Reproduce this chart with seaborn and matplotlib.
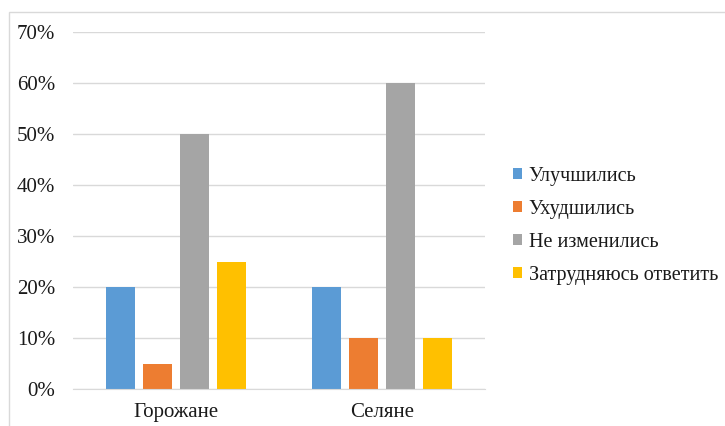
import pandas as pd
import matplotlib.pyplot as plt
import seaborn as sns
from matplotlib.patches import Rectangle
from matplotlib.ticker import PercentFormatter

# Data
groups = ["Горожане", "Селяне"]
answers = ["Улучшились", "Ухудшились", "Не изменились", "Затрудняюсь ответить"]
gorozhane = [20, 5, 50, 25]
selyane = [20, 10, 60, 10]
colors = ["#5B9BD5", "#ED7D31", "#A5A5A5", "#FFC000"]

df = pd.DataFrame({
    "group": [groups[0]] * 4 + [groups[1]] * 4,
    "answer": answers * 2,
    "value": gorozhane + selyane,
})

sns.set_style("white")
plt.rcParams["font.family"] = ["Liberation Serif", "DejaVu Serif"]

fig = plt.figure(figsize=(7.25, 4.26), dpi=100)
ax = fig.add_axes([73 / 725, 37 / 426, 412 / 725, 357 / 426])

# chart border like the Excel frame
fig.patches.append(Rectangle((9 / 725, -0.01), 1.0, 1 - 12 / 426 + 0.01,
                             transform=fig.transFigure, fill=False,
                             edgecolor="#D9D9D9", linewidth=1))

sns.barplot(data=df, x="group", y="value", hue="answer", order=groups,
            hue_order=answers, palette=colors, width=0.72, gap=0.22,
            saturation=1, linewidth=0, ax=ax)

ax.set_xlim(-0.5, 1.5)
ax.set_ylim(0, 70)
ax.set_yticks(range(0, 71, 10))
ax.yaxis.set_major_formatter(PercentFormatter(decimals=0))
ax.grid(axis="y", color="#D9D9D9", linewidth=1)
ax.set_axisbelow(True)
for s in ["top", "right", "left"]:
    ax.spines[s].set_visible(False)
ax.spines["bottom"].set_color("#D9D9D9")
ax.tick_params(axis="both", length=0, labelsize=15, colors="#1a1a1a")
ax.tick_params(axis="y", pad=13)
ax.tick_params(axis="x", pad=10)
ax.set_xlabel("")
ax.set_ylabel("")

ax.legend(loc="center left", bbox_to_anchor=(1.025, 0.457), frameon=False,
          fontsize=14.5, handlelength=0.45, handleheight=0.45, handletextpad=0.3,
          labelspacing=0.7, labelcolor="#1a1a1a")

fig.savefig("out.png", dpi=100)
